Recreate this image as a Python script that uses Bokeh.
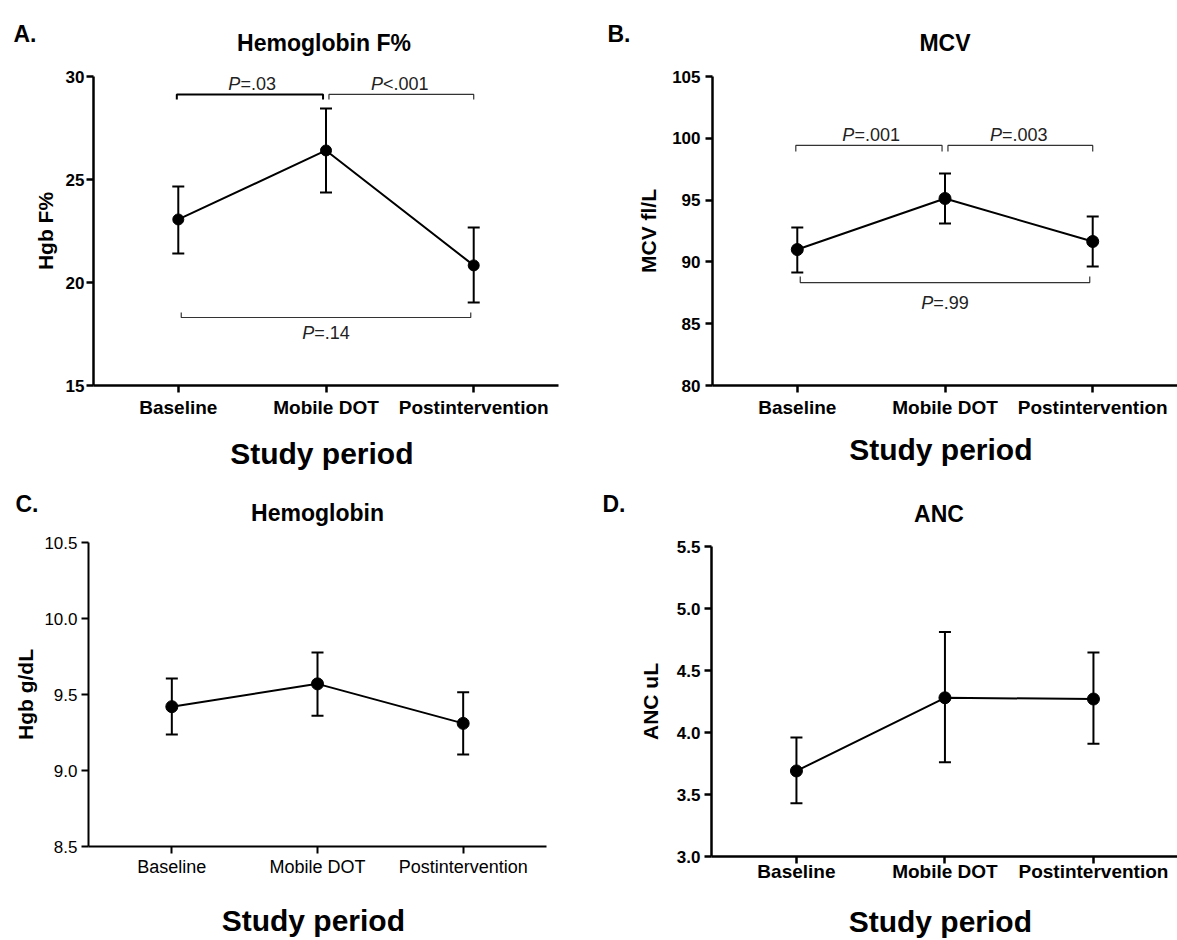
from bokeh.plotting import figure
from bokeh.models import (Whisker, TeeHead, ColumnDataSource, FixedTicker,
                          PrintfTickFormatter, Range1d)
from bokeh.layouts import column, row
from bokeh.embed import file_html
from bokeh.resources import INLINE
from bokeh.core.properties import value

# ---------------- data ----------------
categories = ["Baseline", "Mobile DOT", "Postintervention"]

hbf_mean = [23.06, 26.41, 20.83]
hbf_upper = [24.66, 28.45, 22.67]
hbf_lower = [21.41, 24.37, 19.03]

mcv_mean = [91.0, 95.13, 91.65]
mcv_upper = [92.78, 97.15, 93.67]
mcv_lower = [89.14, 93.11, 89.63]

hgb_mean = [9.42, 9.57, 9.31]
hgb_upper = [9.605, 9.776, 9.515]
hgb_lower = [9.237, 9.36, 9.105]

anc_mean = [3.69, 4.28, 4.27]
anc_upper = [3.96, 4.81, 4.645]
anc_lower = [3.43, 3.76, 3.91]

hbf_ticks = [15, 20, 25, 30]
mcv_ticks = [80, 85, 90, 95, 100, 105]
hgb_ticks = [8.5, 9.0, 9.5, 10.0, 10.5]
anc_ticks = [3.0, 3.5, 4.0, 4.5, 5.0, 5.5]

# significance brackets: compared pair, bracket level, p-value text
pair_first = [1, 2, 1]
pair_second = [2, 3, 3]
hbf_bracket_level = [29.13, 29.13, 18.30]
hbf_p_rest = ["=.03", "<.001", "=.14"]
mcv_bracket_level = [99.42, 99.42, 88.33]
mcv_p_rest = ["=.001", "=.003", "=.99"]

panel_letters = ["A.", "B.", "C.", "D."]
panel_titles = ["Hemoglobin F%", "MCV", "Hemoglobin", "ANC"]

FONT = "Liberation Sans"
ARIAL_W = {"P": 0.667, "=": 0.584, "<": 0.584, ".": 0.278}
PAGE_W = 1177


def text_w(s, size):
    return sum(ARIAL_W.get(c, 0.556) for c in s) * size


def no_align(fig):
    try:
        fig.frame_align = False
    except Exception:
        pass


def make_panel(mean, upper, lower, ymin, ymax, yticks, yfmt, ylabel,
               bl, fw, br, fh, bb, x0, x1, bt=14, bold_ticks=True, axis_w=2.5, dot=12,
               y_lab_standoff=4, y_axlab_standoff=6, x_lab_standoff=4, x_axlab_standoff=18):
    p = figure(frame_width=fw, frame_height=fh, min_border_left=bl, min_border_right=br,
               min_border_top=bt, min_border_bottom=bb, title=None,
               x_range=Range1d(x0, x1), y_range=Range1d(ymin, ymax),
               output_backend="svg", toolbar_location=None)
    no_align(p)
    p.outline_line_color = None
    p.xgrid.visible = False
    p.ygrid.visible = False
    p.background_fill_color = "white"
    p.border_fill_color = "white"

    xs = [i + 1 for i in range(len(categories))]

    for ax in (p.xaxis[0], p.yaxis[0]):
        ax.axis_line_width = axis_w
        ax.axis_line_color = "black"
        ax.major_tick_line_width = axis_w
        ax.major_tick_line_color = "black"
        ax.major_tick_out = 7
        ax.major_tick_in = 0
        ax.minor_tick_out = 0
        ax.minor_tick_in = 0
        ax.major_label_text_font = FONT
        ax.major_label_text_font_style = "bold" if bold_ticks else "normal"
        ax.major_label_text_color = "black"
        ax.axis_label_text_font = FONT
        ax.axis_label_text_font_style = "bold"
        ax.axis_label_text_color = "black"
    p.yaxis.major_label_text_font_size = "17px"
    p.xaxis.major_label_text_font_size = "19px" if bold_ticks else "18px"

    p.xaxis.ticker = FixedTicker(ticks=xs)
    p.xaxis.major_label_overrides = {x: c for x, c in zip(xs, categories)}
    p.xaxis.axis_label = "Study  period"
    p.xaxis.axis_label_text_font_size = "30px"
    p.xaxis.major_label_standoff = x_lab_standoff
    p.xaxis.axis_label_standoff = x_axlab_standoff

    p.yaxis.ticker = FixedTicker(ticks=yticks)
    p.yaxis.formatter = PrintfTickFormatter(format=yfmt)
    p.yaxis.axis_label = ylabel
    p.yaxis.axis_label_text_font_size = "21px"
    p.yaxis.major_label_standoff = y_lab_standoff
    p.yaxis.axis_label_standoff = y_axlab_standoff

    src = ColumnDataSource(dict(x=xs, mean=mean, upper=upper, lower=lower))
    w = Whisker(base="x", upper="upper", lower="lower", source=src,
                line_width=2, line_color="black",
                upper_head=TeeHead(size=12, line_width=2, line_color="black"),
                lower_head=TeeHead(size=12, line_width=2, line_color="black"))
    p.add_layout(w)
    p.line("x", "mean", source=src, line_width=2, line_color="black")
    p.scatter("x", "mean", source=src, size=dot, fill_color="black", line_color="black")
    return p


def make_header(height, letters, letter_x, letter_base, titles, title_cx, title_base):
    h = figure(width=PAGE_W, height=height, x_range=Range1d(0, PAGE_W), y_range=Range1d(height, 0),
               min_border=0, x_axis_location=None, y_axis_location=None, title=None,
               output_backend="svg", toolbar_location=None)
    no_align(h)
    h.outline_line_color = None
    h.grid.visible = False
    h.background_fill_color = "white"
    h.border_fill_color = "white"
    h.text(x=letter_x, y=letter_base, text=letters, text_font=value(FONT),
           text_font_size="23px", text_font_style="bold", text_color="black",
           text_align="left", text_baseline="alphabetic")
    h.text(x=title_cx, y=title_base, text=titles, text_font=value(FONT),
           text_font_size="23px", text_font_style="bold", text_color="black",
           text_align="center", text_baseline="alphabetic")
    return h


def add_brackets(p, levels, rests, fh, ymin, ymax, first_bold, top_off, bottom_off, tick_px=5):
    per_px = (ymax - ymin) / fh
    tick = tick_px * per_px
    g = 0.02
    for i, (a, b, lev, rest) in enumerate(zip(pair_first, pair_second, levels, rests)):
        below = (a == 1 and b == 3)
        if below:
            xa, xb, d = a + g, b - g, tick
        elif a == 1:
            xa, xb, d = a - 0.01, b - g, -tick
        else:
            xa, xb, d = a + g, b, -tick
        bold = first_bold and i == 0
        p.line([xa, xa, xb, xb], [lev + d, lev, lev, lev + d],
               line_width=2 if bold else 1.2, line_color="black" if bold else "#333333")
        cx = (a + b) / 2
        size = 18
        off = (text_w("P", size) - text_w(rest, size)) / 2
        yoff = bottom_off if below else top_off
        p.text(x=[cx], y=[lev], text=["P"], x_offset=off, y_offset=yoff,
               text_font=value(FONT), text_font_size="18px", text_font_style="italic",
               text_align="right", text_baseline="alphabetic", text_color="#222222")
        p.text(x=[cx], y=[lev], text=[rest], x_offset=off, y_offset=yoff,
               text_font=value(FONT), text_font_size="18px", text_font_style="normal",
               text_align="left", text_baseline="alphabetic", text_color="#222222")


def title_center(left, g):
    return left + g["bl"] + (2 - g["x0"]) / (g["x1"] - g["x0"]) * g["fw"]


# ---- geometry ----
A = dict(bl=93, fw=465, br=42, fh=309, bb=94, x0=0.426, x1=3.574)
B = dict(bl=112, fw=465, br=0, fh=309, bb=94, x0=0.426, x1=3.574)
C = dict(bl=88, fw=458, br=54, fh=304, bb=94, x0=0.428, x1=3.572)
D = dict(bl=111, fw=466, br=0, fh=310, bb=84, x0=0.428, x1=3.566)
RIGHT_COL = A["bl"] + A["fw"] + A["br"]

pA = make_panel(hbf_mean, hbf_upper, hbf_lower, 15, 30, hbf_ticks, "%d", "Hgb F%", **A,
                dot=11, y_lab_standoff=2, y_axlab_standoff=6, x_lab_standoff=4, x_axlab_standoff=16)
add_brackets(pA, hbf_bracket_level, hbf_p_rest, A["fh"], 15, 30, True, -10, 15)

pB = make_panel(mcv_mean, mcv_upper, mcv_lower, 80, 105, mcv_ticks, "%d", "MCV fl/L", **B,
                dot=12, y_lab_standoff=5, y_axlab_standoff=9, x_lab_standoff=4, x_axlab_standoff=12)
add_brackets(pB, mcv_bracket_level, mcv_p_rest, B["fh"], 80, 105, False, -10, 20, tick_px=6)

pC = make_panel(hgb_mean, hgb_upper, hgb_lower, 8.5, 10.5, hgb_ticks, "%.1f", "Hgb g/dL", **C,
                bold_ticks=False, axis_w=2, dot=12, y_lab_standoff=4, y_axlab_standoff=4,
                x_lab_standoff=3, x_axlab_standoff=24)

pD = make_panel(anc_mean, anc_upper, anc_lower, 3.0, 5.5, anc_ticks, "%.1f", "ANC uL", **D, bt=18,
                dot=12, y_lab_standoff=4, y_axlab_standoff=12, x_lab_standoff=-3, x_axlab_standoff=20)

h1 = make_header(62, panel_letters[:2], [13, RIGHT_COL + 7], [33, 33], panel_titles[:2],
                 [title_center(0, A) - 2, title_center(RIGHT_COL, B)], [42, 42])
h2 = make_header(49, panel_letters[2:], [15, RIGHT_COL + 2], [24, 24], panel_titles[2:],
                 [title_center(0, C), title_center(RIGHT_COL, D) - 6], [33, 34])

layout = column(
    h1,
    row(column(pA, spacing=0), column(pB, spacing=0), spacing=0),
    h2,
    row(column(pC, spacing=0), column(pD, spacing=0), spacing=0),
    spacing=0,
)

open("out.html", "w").write(file_html(layout, INLINE))
